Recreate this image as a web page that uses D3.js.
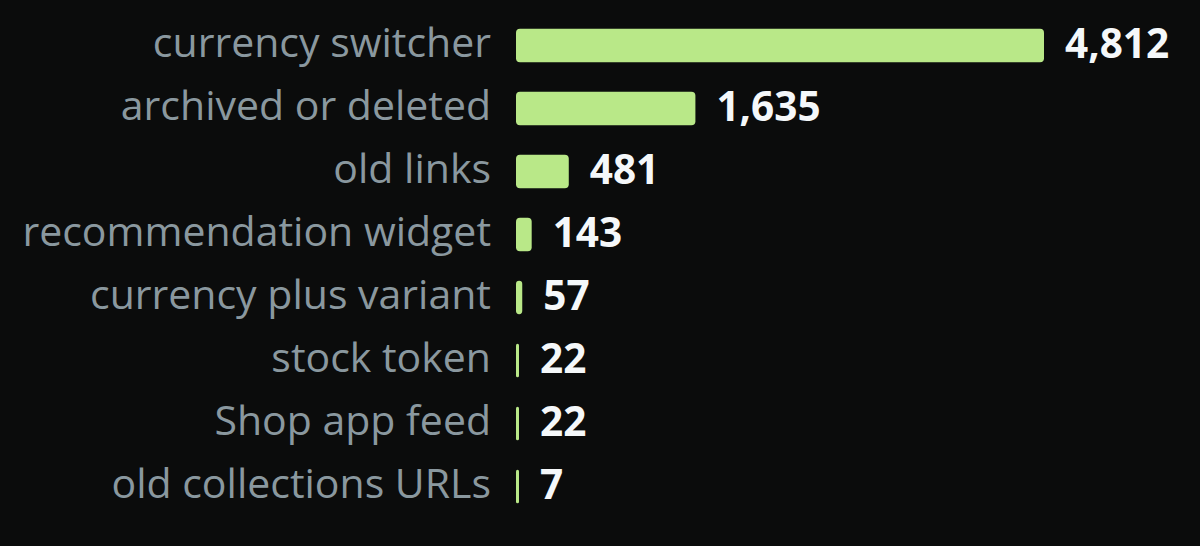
<!DOCTYPE html>
<html><head><meta charset="utf-8">
<script src="https://cdn.jsdelivr.net/npm/d3@7/dist/d3.min.js"></script>
<style>
html,body{margin:0;padding:0;background:#0b0c0c;}
svg{display:block;}
</style></head>
<body>
<svg id="chart" width="1200" height="546"></svg>
<script>
const categories = ["currency switcher","archived or deleted","old links","recommendation widget","currency plus variant","stock token","Shop app feed","old collections URLs"];
const values = [4812,1635,481,143,57,22,22,7];

const W = 1200, H = 546;
const x0 = 516, xMaxPx = 1044;
const svg = d3.select("#chart");
svg.append("rect").attr("width",W).attr("height",H).attr("fill","#0b0c0c");

const x = d3.scaleLinear().domain([0, d3.max(values)]).range([x0, xMaxPx]);
const y = d3.scaleBand().domain(categories).range([14, 518]).paddingInner(0.47).paddingOuter(0.235);

const rows = categories.map((c,i)=>({c, v: values[i]}));
const g = svg.append("g");

g.selectAll("rect.bar").data(rows).enter().append("rect")
  .attr("class","bar")
  .attr("x", x0)
  .attr("y", d=>y(d.c))
  .attr("width", d=>Math.max(3, x(d.v)-x0))
  .attr("height", y.bandwidth())
  .attr("rx", d=>Math.min(4, Math.max(3, x(d.v)-x0)/2))
  .attr("fill","#b9e888");

g.selectAll("text.lab").data(rows).enter().append("text")
  .attr("class","lab")
  .attr("x", 491)
  .attr("y", d=>y(d.c)+y.bandwidth()/2)
  .attr("dy","0.28em")
  .attr("text-anchor","end")
  .attr("font-family","'Open Sans', 'Noto Sans', sans-serif")
  .attr("font-size", 41)
  .attr("fill","#8a989f")
  .text(d=>d.c);

const fmt = d3.format(",");
g.selectAll("text.val").data(rows).enter().append("text")
  .attr("class","val")
  .attr("x", d=>x0 + Math.max(3, x(d.v)-x0) + 21)
  .attr("y", d=>y(d.c)+y.bandwidth()/2)
  .attr("dy","0.3em")
  .attr("font-family","'Open Sans', 'Noto Sans', sans-serif")
  .attr("font-weight","bold")
  .attr("font-size", 40.5)
  .attr("fill","#f5f8fa")
  .text(d=>fmt(d.v));
</script>
</body></html>
